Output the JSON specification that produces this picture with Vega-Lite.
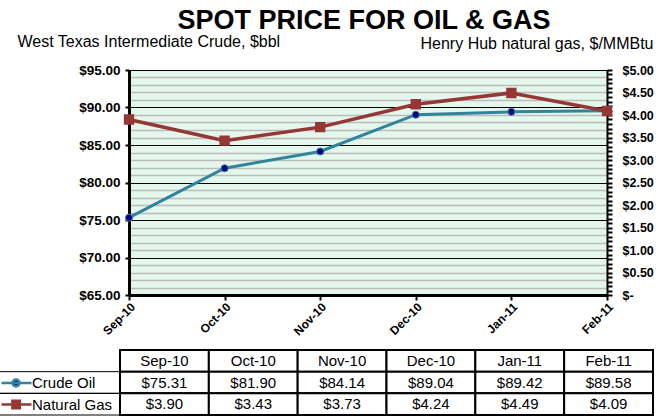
{
  "$schema": "https://vega.github.io/schema/vega-lite/v6.json",
  "width": 478,
  "height": 225,
  "autosize": {"type": "none"},
  "padding": {"left": 129, "top": 70, "right": 49, "bottom": 125},
  "background": "white",
  "title": {"text": "SPOT PRICE FOR OIL & GAS", "font": "Liberation Sans", "fontSize": 27, "fontWeight": "bold", "color": "black", "anchor": "middle", "offset": -2, "dx": -4},
  "config": {
    "view": {"fill": "#e4f7ec", "stroke": null},
    "font": "Liberation Sans",
    "axis": {"labelFont": "Liberation Sans", "titleFont": "Liberation Sans", "labelColor": "black", "titleColor": "black", "domainColor": "black", "tickColor": "black"},
    "legend": {"orient": "none", "legendX": -121.5, "legendY": 304, "title": null, "symbolSize": 225, "symbolStrokeWidth": 2.5, "labelFont": "Liberation Sans", "labelFontSize": 15, "labelColor": "black", "labelOffset": 6.5, "rowPadding": 3.5, "padding": 0}
  },
  "data": {"values": [
    {"month": "Sep-10", "Crude Oil": 75.31, "Natural Gas": 3.90},
    {"month": "Oct-10", "Crude Oil": 81.90, "Natural Gas": 3.43},
    {"month": "Nov-10", "Crude Oil": 84.14, "Natural Gas": 3.73},
    {"month": "Dec-10", "Crude Oil": 89.04, "Natural Gas": 4.24},
    {"month": "Jan-11", "Crude Oil": 89.42, "Natural Gas": 4.49},
    {"month": "Feb-11", "Crude Oil": 89.58, "Natural Gas": 4.09}
  ]},
  "layer": [
    {
      "encoding": {
        "x": {"field": "month", "type": "ordinal", "sort": ["Sep-10", "Oct-10", "Nov-10", "Dec-10", "Jan-11", "Feb-11"], "scale": {"type": "point", "padding": 0},
          "axis": {"title": null, "labelAngle": -45, "labelAlign": "right", "labelBaseline": "top", "labelFontSize": 12, "labelFontWeight": "bold", "labelPadding": 1, "domainWidth": 3, "tickWidth": 2, "tickSize": 5, "grid": false}}
      },
      "layer": [
        {
          "encoding": {
            "y": {"field": "Crude Oil", "type": "quantitative", "scale": {"domain": [65, 95], "nice": false, "zero": false},
              "axis": {"orient": "left", "tickCount": 30, "grid": true,
                "gridColor": {"condition": {"test": "datum.value % 5 === 0", "value": "black"}, "value": "#bcbcbc"},
                "gridWidth": {"condition": {"test": "datum.value % 5 === 0", "value": 1}, "value": 1.5},
                "tickOpacity": {"condition": {"test": "datum.value % 5 === 0", "value": 1}, "value": 0},
                "labelExpr": "datum.value % 5 === 0 ? format(datum.value, '$.2f') : ''",
                "labelFontSize": 13.5, "labelFontWeight": "bold", "labelPadding": 5, "tickSize": 4, "tickWidth": 2, "domainWidth": 3,
                "title": "West Texas Intermediate Crude, $bbl", "titleAngle": 0, "titleAlign": "left", "titleBaseline": "alphabetic", "titleX": -112, "titleY": -24, "titleFontSize": 16, "titleFontWeight": "normal"}}
          },
          "layer": [
            {"mark": {"type": "line", "color": "#31849b", "strokeWidth": 3}},
            {"mark": {"type": "point", "filled": true, "fill": "#000080", "stroke": "#31849b", "strokeWidth": 1, "size": 50, "opacity": 1}}
          ]
        },
        {
          "encoding": {
            "y": {"field": "Natural Gas", "type": "quantitative", "scale": {"domain": [0, 5], "nice": false, "zero": true},
              "axis": {"orient": "right", "tickCount": 50, "grid": false,
                "labelExpr": "abs(datum.value * 2 - round(datum.value * 2)) < 0.000001 ? (datum.value === 0 ? '$-' : format(datum.value, '$.2f')) : ''",
                "labelFontSize": 12.5, "labelFontWeight": "bold", "labelPadding": 10, "tickSize": 5, "tickWidth": 2, "domainWidth": 2,
                "title": "Henry Hub natural gas, $/MMBtu", "titleAngle": 0, "titleAlign": "right", "titleBaseline": "alphabetic", "titleX": 46, "titleY": -22, "titleFontSize": 16, "titleFontWeight": "normal"}}
          },
          "layer": [
            {"mark": {"type": "line", "color": "#953735", "strokeWidth": 3.5}},
            {"mark": {"type": "point", "shape": "square", "filled": true, "fill": "#953735", "stroke": "#953735", "size": 70, "opacity": 1}}
          ]
        }
      ],
      "resolve": {"scale": {"y": "independent"}}
    },
    {
      "transform": [{"fold": ["Crude Oil", "Natural Gas"], "as": ["series", "value"]}],
      "layer": [
        {
          "encoding": {
            "x": {"field": "month", "type": "ordinal", "sort": ["Sep-10", "Oct-10", "Nov-10", "Dec-10", "Jan-11", "Feb-11"], "scale": {"type": "band", "range": [-9, 524], "paddingInner": 0, "paddingOuter": 0}, "axis": null},
            "y": {"field": "series", "type": "nominal", "scale": {"type": "band", "domain": ["Month", "Crude Oil", "Natural Gas"], "range": [280, 345], "paddingInner": 0, "paddingOuter": 0}, "axis": null}
          },
          "layer": [
            {"transform": [{"filter": "datum.series === 'Crude Oil'"}], "mark": {"type": "rect", "fill": "white", "stroke": "black", "strokeWidth": 2}, "encoding": {"y": {"datum": "Month", "type": "nominal"}}},
            {"mark": {"type": "rect", "fill": "white", "stroke": "black", "strokeWidth": 2}},
            {"transform": [{"filter": "datum.series === 'Crude Oil'"}], "mark": {"type": "text", "fontSize": 15, "color": "black"}, "encoding": {"y": {"datum": "Month", "type": "nominal"}, "text": {"field": "month"}}},
            {"mark": {"type": "text", "fontSize": 15, "color": "black"}, "encoding": {"text": {"field": "value", "type": "quantitative", "format": "$.2f"}}},
            {
              "transform": [{"filter": "false"}],
              "mark": {"type": "point", "filled": true, "opacity": 1},
              "encoding": {
                "shape": {"field": "series", "type": "nominal", "scale": {"domain": ["Crude Oil", "Natural Gas"], "range": ["M-2,0H2M0.4,0A0.46,0.46 0 1 1 -0.52,0A0.46,0.46 0 1 1 0.4,0Z", "M-2,0H2M-0.55,-0.5H0.45V0.5H-0.55Z"]}},
                "fill": {"field": "series", "type": "nominal", "scale": {"domain": ["Crude Oil", "Natural Gas"], "range": ["#000080", "#953735"]}},
                "stroke": {"field": "series", "type": "nominal", "scale": {"domain": ["Crude Oil", "Natural Gas"], "range": ["#31849b", "#953735"]}}
              }
            }
          ]
        },
        {
          "transform": [{"filter": "datum.month === 'Sep-10'"}],
          "mark": {"type": "rect", "fillOpacity": 0, "stroke": "black", "strokeWidth": 1},
          "encoding": {
            "x": {"datum": 0, "type": "quantitative", "scale": {"domain": [0, 1], "range": [-140, -9]}, "axis": null},
            "x2": {"datum": 1},
            "y": {"field": "series", "type": "nominal", "scale": {"type": "band", "domain": ["Month", "Crude Oil", "Natural Gas"], "range": [280, 345], "paddingInner": 0, "paddingOuter": 0}, "axis": null}
          }
        }
      ],
      "resolve": {"scale": {"x": "independent"}}
    }
  ],
  "resolve": {"scale": {"x": "independent", "y": "independent"}}
}
